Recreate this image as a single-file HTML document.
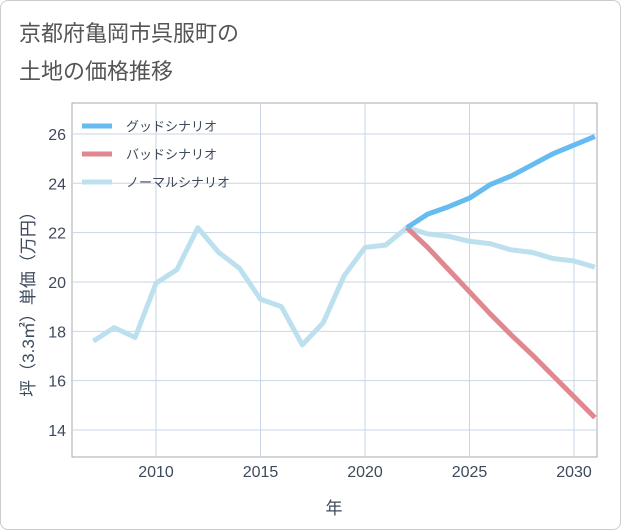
<!DOCTYPE html>
<html><head><meta charset="utf-8"><style>
body{margin:0;background:#fff;font-family:"Liberation Sans","Noto Sans CJK JP",sans-serif;}
#card{position:absolute;left:0;top:0;width:619px;height:528px;border:1px solid #ccc;border-radius:8px;background:#fff;}
#title{position:absolute;left:18px;top:14px;font-size:22px;line-height:38px;color:#555;}
</style></head><body>
<div id="card">
<div id="title">京都府亀岡市呉服町の<br>土地の価格推移</div>
<svg id="chart" width="621" height="530" style="position:absolute;left:-1px;top:-1px"></svg>
</div>
<script>
const years=[2007,2008,2009,2010,2011,2012,2013,2014,2015,2016,2017,2018,2019,2020,2021,2022,2023,2024,2025,2026,2027,2028,2029,2030,2031];
const normal=[17.6,18.15,17.75,19.95,20.5,22.2,21.2,20.55,19.3,19.0,17.45,18.35,20.25,21.4,21.5,22.2,21.95,21.85,21.65,21.55,21.3,21.2,20.95,20.85,20.6];
const fYears=[2022,2023,2024,2025,2026,2027,2028,2029,2030,2031];
const good=[22.2,22.75,23.05,23.4,23.95,24.3,24.75,25.2,25.55,25.9];
const bad=[22.2,21.4,20.5,19.6,18.7,17.85,17.05,16.2,15.35,14.5];
const yTicks=[14,16,18,20,22,24,26];
const xTicks=[2010,2015,2020,2025,2030];
const NS='http://www.w3.org/2000/svg';
const svg=document.getElementById('chart');
const L=72,R=597,T=103,B=457;
const x=v=>156+(v-2010)*20.9;
const y=v=>430-(v-14)*24.67;
function el(t,a,p){const e=document.createElementNS(NS,t);for(const k in a)e.setAttribute(k,a[k]);(p||svg).appendChild(e);return e;}
const frame=el('rect',{x:L,y:T,width:R-L,height:B-T,fill:'none',stroke:'#aaa'});


yTicks.forEach(v=>{
 const g=el('line',{x1:L,x2:R,y1:y(v),y2:y(v),stroke:'#c9d6e6'});
 
 
 const t=el('text',{x:L-6,y:y(v)+6,'text-anchor':'end','font-size':16,fill:'#3d4a5c'});t.textContent=v;
 
 
});
xTicks.forEach(v=>{
 const g=el('line',{x1:x(v),x2:x(v),y1:T,y2:B,stroke:'#c9d6e6'});
 
 
 const t=el('text',{x:x(v),y:477,'text-anchor':'middle','font-size':16,fill:'#3d4a5c'});t.textContent=v;
 
 
});
const xt=el('text',{x:334,y:514,'text-anchor':'middle','font-size':17,fill:'#3d4a5c'});xt.textContent='年';


const yt=el('text',{x:0,y:0,transform:'translate(34,300) rotate(-90)','text-anchor':'middle','font-size':17,fill:'#3d4a5c'});yt.textContent='坪（3.3㎡）単価（万円）';


function line(xs,vs,c,name){const p=el('polyline',{points:xs.map((v,i)=>x(v)+','+y(vs[i])).join(' '),fill:'none',stroke:c,'stroke-width':5,'stroke-linejoin':'round'});
 
 }
line(years,normal,'#bde0ee','normal-scenario-line');
line(fYears,bad,'#e0888f','bad-scenario-line');
line(fYears,good,'#66bbf0','good-scenario-line');
[['グッドシナリオ','#66bbf0'],['バッドシナリオ','#e0888f'],['ノーマルシナリオ','#bde0ee']].forEach((d,i)=>{
 const yy=126+i*28;
 const s=el('line',{x1:82,x2:112,y1:yy,y2:yy,stroke:d[1],'stroke-width':5});
 
 
 const t=el('text',{x:126,y:yy+5,'font-size':13,fill:'#3d4a5c'});t.textContent=d[0];
 
 
});
</script>
</body></html>
